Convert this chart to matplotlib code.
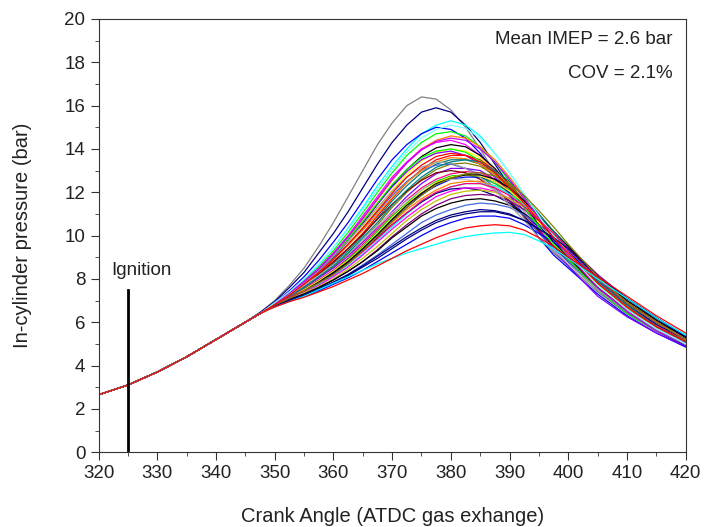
import matplotlib
matplotlib.use("Agg")
import matplotlib.pyplot as plt
from matplotlib.ticker import MultipleLocator

plt.rcParams['font.family'] = ['Liberation Sans', 'DejaVu Sans']

# compression part, all cycles lie on top of each other here
trunk_angle = [320, 325, 330, 335, 340]
trunk_pressure = [2.65, 3.1, 3.7, 4.4, 5.2]

# combustion part, one pressure row (bar) per cycle
cycle_angle = [345, 347.5, 350, 352.5, 355, 357.5, 360, 362.5, 365, 367.5, 370, 372.5, 375,
               377.5, 380, 382.5, 385, 387.5, 390, 392.5, 395, 397.5, 400, 405, 410, 415, 420]

cycle_pressure = [
    [6.0, 6.45, 7.0, 7.7, 8.5, 9.5, 10.6, 11.8, 13.0, 14.2, 15.2, 16.0, 16.4, 16.3, 15.8, 15.0, 14.0, 12.9, 11.8, 10.8, 9.9, 9.2, 8.6, 7.4, 6.4, 5.6, 4.9],
    [6.0, 6.45, 6.95, 7.6, 8.3, 9.2, 10.1, 11.1, 12.2, 13.3, 14.3, 15.1, 15.7, 15.9, 15.7, 15.1, 14.3, 13.3, 12.3, 11.3, 10.3, 9.5, 8.8, 7.5, 6.4, 5.6, 4.9],
    [6.0, 6.4, 6.85, 7.35, 7.95, 8.65, 9.45, 10.35, 11.3, 12.3, 13.2, 14.0, 14.7, 15.1, 15.3, 15.1, 14.6, 13.8, 12.9, 11.9, 10.9, 10.0, 9.2, 7.7, 6.6, 5.7, 5.0],
    [6.0, 6.4, 6.9, 7.45, 8.1, 8.85, 9.7, 10.6, 11.6, 12.6, 13.5, 14.2, 14.7, 15.0, 14.9, 14.5, 13.8, 12.9, 11.9, 10.9, 9.9, 9.1, 8.5, 7.3, 6.3, 5.5, 4.85],
    [6.0, 6.4, 6.85, 7.35, 7.9, 8.55, 9.3, 10.15, 11.05, 12.0, 12.9, 13.7, 14.3, 14.7, 14.8, 14.6, 14.1, 13.4, 12.5, 11.5, 10.5, 9.7, 9.0, 7.6, 6.5, 5.6, 5.0],
    [6.0, 6.4, 6.85, 7.3, 7.8, 8.4, 9.1, 9.9, 10.75, 11.65, 12.55, 13.35, 14.0, 14.4, 14.6, 14.5, 14.1, 13.5, 12.7, 11.8, 10.8, 9.9, 9.1, 7.6, 6.5, 5.6, 5.0],
    [6.0, 6.4, 6.85, 7.35, 7.9, 8.5, 9.2, 10.0, 10.9, 11.8, 12.7, 13.4, 14.0, 14.3, 14.4, 14.2, 13.7, 13.0, 12.2, 11.3, 10.3, 9.5, 8.9, 7.5, 6.4, 5.6, 5.0],
    [6.0, 6.4, 6.8, 7.3, 7.8, 8.35, 9.0, 9.75, 10.55, 11.45, 12.3, 13.05, 13.65, 14.05, 14.2, 14.1, 13.7, 13.1, 12.3, 11.4, 10.5, 9.7, 9.0, 7.6, 6.5, 5.7, 5.0],
    [6.0, 6.4, 6.8, 7.25, 7.75, 8.3, 8.9, 9.6, 10.4, 11.25, 12.1, 12.85, 13.45, 13.85, 14.0, 13.9, 13.6, 13.0, 12.3, 11.5, 10.6, 9.8, 9.1, 7.7, 6.6, 5.7, 5.0],
    [6.0, 6.4, 6.85, 7.3, 7.8, 8.4, 9.05, 9.8, 10.6, 11.45, 12.25, 12.95, 13.5, 13.8, 13.9, 13.7, 13.3, 12.7, 12.0, 11.1, 10.2, 9.3, 8.6, 7.2, 6.25, 5.5, 4.9],
    [6.0, 6.4, 6.8, 7.25, 7.7, 8.2, 8.75, 9.4, 10.1, 10.9, 11.7, 12.45, 13.05, 13.5, 13.7, 13.7, 13.5, 13.0, 12.4, 11.6, 10.8, 10.0, 9.2, 7.8, 6.7, 5.8, 5.1],
    [6.0, 6.4, 6.8, 7.2, 7.65, 8.15, 8.7, 9.3, 10.0, 10.8, 11.6, 12.3, 12.9, 13.3, 13.5, 13.5, 13.3, 12.9, 12.3, 11.6, 10.8, 10.0, 9.2, 7.8, 6.7, 5.8, 5.1],
    [6.0, 6.4, 6.8, 7.2, 7.6, 8.05, 8.55, 9.15, 9.8, 10.5, 11.3, 12.0, 12.6, 13.05, 13.3, 13.35, 13.2, 12.8, 12.3, 11.6, 10.9, 10.1, 9.3, 7.9, 6.8, 5.9, 5.1],
    [6.0, 6.4, 6.85, 7.3, 7.8, 8.35, 8.95, 9.6, 10.3, 11.1, 11.85, 12.5, 13.0, 13.25, 13.3, 13.1, 12.8, 12.2, 11.6, 10.9, 10.1, 9.4, 8.8, 7.5, 6.5, 5.7, 5.0],
    [6.0, 6.4, 6.8, 7.2, 7.6, 8.05, 8.5, 9.05, 9.7, 10.4, 11.1, 11.8, 12.4, 12.85, 13.1, 13.1, 13.0, 12.6, 12.1, 11.5, 10.8, 10.1, 9.3, 7.9, 6.8, 5.9, 5.1],
    [6.0, 6.4, 6.8, 7.2, 7.55, 7.95, 8.4, 8.95, 9.6, 10.3, 11.0, 11.65, 12.2, 12.6, 12.85, 12.95, 12.9, 12.6, 12.1, 11.5, 10.8, 10.1, 9.4, 7.9, 6.8, 5.9, 5.1],
    [6.0, 6.4, 6.85, 7.3, 7.75, 8.25, 8.8, 9.4, 10.05, 10.75, 11.45, 12.05, 12.55, 12.9, 13.0, 12.9, 12.6, 12.1, 11.6, 10.9, 10.2, 9.5, 8.9, 7.6, 6.6, 5.8, 5.1],
    [6.0, 6.4, 6.8, 7.15, 7.5, 7.9, 8.35, 8.9, 9.5, 10.2, 10.9, 11.5, 12.1, 12.5, 12.75, 12.8, 12.7, 12.4, 12.0, 11.4, 10.8, 10.1, 9.4, 8.0, 6.9, 6.0, 5.2],
    [6.0, 6.4, 6.8, 7.1, 7.45, 7.85, 8.25, 8.75, 9.35, 10.0, 10.7, 11.3, 11.9, 12.3, 12.6, 12.7, 12.7, 12.5, 12.0, 11.5, 10.8, 10.1, 9.4, 8.0, 6.9, 6.0, 5.2],
    [6.0, 6.4, 6.8, 7.25, 7.7, 8.15, 8.65, 9.2, 9.8, 10.45, 11.05, 11.6, 12.1, 12.45, 12.6, 12.6, 12.45, 12.1, 11.7, 11.1, 10.5, 9.8, 9.2, 7.9, 6.8, 5.9, 5.2],
    [6.0, 6.4, 6.8, 7.15, 7.45, 7.8, 8.2, 8.7, 9.3, 9.95, 10.6, 11.2, 11.7, 12.1, 12.4, 12.5, 12.5, 12.3, 11.9, 11.4, 10.8, 10.1, 9.4, 8.0, 6.9, 6.0, 5.2],
    [6.0, 6.4, 6.75, 7.1, 7.4, 7.75, 8.15, 8.6, 9.15, 9.75, 10.4, 11.0, 11.55, 11.95, 12.25, 12.4, 12.4, 12.3, 11.9, 11.4, 10.8, 10.2, 9.5, 8.1, 7.0, 6.0, 5.3],
    [6.0, 6.4, 6.8, 7.15, 7.5, 7.85, 8.25, 8.75, 9.3, 9.9, 10.5, 11.05, 11.55, 11.95, 12.15, 12.2, 12.1, 11.85, 11.5, 11.0, 10.4, 9.8, 9.2, 7.9, 6.8, 5.9, 5.2],
    [6.0, 6.4, 6.75, 7.1, 7.4, 7.7, 8.1, 8.55, 9.1, 9.7, 10.3, 10.85, 11.35, 11.8, 12.05, 12.2, 12.2, 12.05, 11.7, 11.3, 10.7, 10.1, 9.5, 8.1, 7.0, 6.0, 5.3],
    [6.0, 6.4, 6.75, 7.05, 7.35, 7.65, 8.0, 8.45, 8.95, 9.5, 10.1, 10.7, 11.2, 11.6, 11.9, 12.05, 12.1, 12.0, 11.7, 11.3, 10.7, 10.1, 9.5, 8.1, 7.0, 6.0, 5.3],
    [6.0, 6.4, 6.75, 7.05, 7.3, 7.6, 7.95, 8.35, 8.8, 9.35, 9.95, 10.5, 11.0, 11.4, 11.7, 11.85, 11.9, 11.85, 11.6, 11.2, 10.7, 10.1, 9.5, 8.2, 7.1, 6.1, 5.3],
    [6.0, 6.4, 6.75, 7.05, 7.3, 7.6, 7.95, 8.35, 8.8, 9.3, 9.9, 10.4, 10.9, 11.25, 11.5, 11.65, 11.7, 11.6, 11.4, 11.0, 10.5, 10.0, 9.4, 8.1, 7.0, 6.1, 5.3],
    [6.0, 6.4, 6.75, 7.0, 7.25, 7.5, 7.85, 8.2, 8.65, 9.1, 9.6, 10.1, 10.6, 10.95, 11.2, 11.4, 11.5, 11.45, 11.3, 10.95, 10.5, 10.0, 9.4, 8.1, 7.1, 6.2, 5.4],
    [6.0, 6.4, 6.75, 7.0, 7.25, 7.5, 7.8, 8.15, 8.55, 8.95, 9.4, 9.85, 10.25, 10.6, 10.85, 11.0, 11.1, 11.1, 10.95, 10.7, 10.3, 9.9, 9.4, 8.1, 7.1, 6.2, 5.35],
    [6.0, 6.4, 6.75, 7.0, 7.2, 7.45, 7.75, 8.05, 8.4, 8.8, 9.2, 9.6, 10.0, 10.35, 10.6, 10.8, 10.9, 10.9, 10.8, 10.5, 10.1, 9.7, 9.2, 8.1, 7.1, 6.2, 5.35],
    [6.0, 6.4, 6.85, 7.3, 7.85, 8.45, 9.1, 9.85, 10.65, 11.5, 12.35, 13.05, 13.6, 13.9, 14.0, 13.85, 13.45, 12.85, 12.1, 11.3, 10.4, 9.6, 8.9, 7.5, 6.4, 5.6, 5.0],
    [6.0, 6.4, 6.8, 7.25, 7.75, 8.3, 8.9, 9.55, 10.25, 11.0, 11.75, 12.45, 13.0, 13.4, 13.6, 13.55, 13.3, 12.8, 12.2, 11.5, 10.7, 9.9, 9.2, 7.8, 6.7, 5.8, 5.1],
    [6.0, 6.4, 6.85, 7.3, 7.8, 8.4, 9.05, 9.75, 10.5, 11.3, 12.05, 12.7, 13.15, 13.4, 13.35, 13.1, 12.7, 12.1, 11.4, 10.7, 9.9, 9.3, 8.7, 7.5, 6.5, 5.7, 5.0],
    [6.0, 6.4, 6.8, 7.15, 7.5, 7.9, 8.35, 8.85, 9.45, 10.1, 10.8, 11.45, 12.0, 12.45, 12.7, 12.8, 12.75, 12.5, 12.05, 11.5, 10.8, 10.1, 9.4, 8.0, 6.9, 6.0, 5.2],
    [6.0, 6.4, 6.8, 7.15, 7.45, 7.85, 8.3, 8.8, 9.4, 10.05, 10.75, 11.4, 11.95, 12.4, 12.65, 12.8, 12.8, 12.6, 12.2, 11.6, 10.9, 10.2, 9.5, 8.0, 6.9, 6.0, 5.2],
    [6.0, 6.4, 6.8, 7.2, 7.6, 8.1, 8.6, 9.2, 9.9, 10.6, 11.4, 12.1, 12.7, 13.15, 13.4, 13.5, 13.4, 13.0, 12.5, 11.8, 11.0, 10.2, 9.4, 7.9, 6.8, 5.8, 5.1],
    [6.0, 6.4, 6.85, 7.35, 7.85, 8.45, 9.15, 9.95, 10.8, 11.7, 12.6, 13.35, 13.95, 14.35, 14.5, 14.4, 14.0, 13.4, 12.6, 11.7, 10.8, 9.9, 9.1, 7.6, 6.5, 5.6, 5.0],
    [6.0, 6.4, 6.9, 7.4, 8.0, 8.7, 9.45, 10.3, 11.2, 12.15, 13.05, 13.85, 14.5, 14.9, 15.1, 14.95, 14.5, 13.8, 12.9, 11.9, 10.9, 10.0, 9.2, 7.7, 6.6, 5.7, 5.0],
    [6.0, 6.4, 6.8, 7.15, 7.45, 7.8, 8.2, 8.7, 9.25, 9.85, 10.5, 11.05, 11.6, 12.0, 12.25, 12.4, 12.4, 12.2, 11.85, 11.35, 10.7, 10.1, 9.4, 8.0, 6.9, 6.0, 5.2],
    [6.0, 6.4, 6.75, 7.0, 7.25, 7.55, 7.85, 8.2, 8.6, 9.05, 9.5, 9.95, 10.35, 10.7, 10.95, 11.1, 11.2, 11.15, 11.0, 10.7, 10.3, 9.9, 9.4, 8.1, 7.1, 6.2, 5.35],
    [6.0, 6.4, 6.8, 7.1, 7.45, 7.8, 8.2, 8.7, 9.3, 9.95, 10.65, 11.3, 11.85, 12.35, 12.65, 12.85, 12.9, 12.75, 12.4, 11.85, 11.15, 10.4, 9.6, 8.1, 6.9, 6.0, 5.2],
    [6.0, 6.4, 6.8, 7.25, 7.75, 8.3, 8.9, 9.6, 10.35, 11.15, 11.95, 12.7, 13.25, 13.65, 13.8, 13.7, 13.4, 12.9, 12.2, 11.5, 10.7, 9.9, 9.2, 7.8, 6.7, 5.8, 5.1],
    [6.0, 6.4, 6.7, 6.95, 7.2, 7.5, 7.8, 8.1, 8.4, 8.7, 8.95, 9.2, 9.4, 9.6, 9.8, 9.95, 10.05, 10.12, 10.15, 10.05, 9.75, 9.4, 8.95, 8.0, 7.1, 6.2, 5.4],
    [6.0, 6.4, 6.7, 6.95, 7.15, 7.4, 7.65, 7.95, 8.25, 8.6, 8.95, 9.3, 9.6, 9.9, 10.15, 10.35, 10.45, 10.5, 10.45, 10.25, 9.9, 9.5, 9.0, 8.1, 7.2, 6.3, 5.5],
]

cycle_color = [
    '#808080', '#000080', '#00FFFF', '#0000FF', '#00FF00', '#FF8000', '#FF00FF', '#000000',
    '#FFFF00', '#8000FF', '#FF0000', '#008080', '#808000', '#4169E1', '#8000FF', '#FF0080',
    '#800000', '#00C000', '#0000FF', '#C0C0C0', '#FF8000', '#00FFFF', '#000080', '#FF00FF',
    '#C0C000', '#800080', '#000000', '#4169E1', '#000080', '#0000FF', '#00FF00', '#FF8000',
    '#A0A0A0', '#FFFF00', '#000000', '#008080', '#C000FF', '#80FFFF', '#FF0080', '#000080',
    '#808000', '#FF0000', '#00FFFF', '#FF0000',
]

fig, ax = plt.subplots(figsize=(7.04, 5.27), dpi=100)
fig.subplots_adjust(left=0.140, right=0.974, top=0.964, bottom=0.142)

for pressure, color in zip(cycle_pressure, cycle_color):
    ax.plot(trunk_angle + cycle_angle, trunk_pressure + pressure, color=color, lw=0.9)

# ignition marker
ax.plot([325, 325], [0, 7.5], color='black', lw=2)
ax.text(322.1, 8.4, 'Ignition', fontsize=13.5, ha='left', va='center', color='#222222')

ax.text(0.977, 0.9515, 'Mean IMEP = 2.6 bar', transform=ax.transAxes, fontsize=13.5,
        ha='right', va='center', color='#222222')
ax.text(0.977, 0.875, 'COV = 2.1%', transform=ax.transAxes, fontsize=13.5,
        ha='right', va='center', color='#222222')

ax.set_xlim(320, 420)
ax.set_ylim(0, 20)
ax.xaxis.set_major_locator(MultipleLocator(10))
ax.xaxis.set_minor_locator(MultipleLocator(5))
ax.yaxis.set_major_locator(MultipleLocator(2))
ax.yaxis.set_minor_locator(MultipleLocator(1))
ax.tick_params(which='major', direction='out', length=6, labelsize=13.5, color='#333333', labelcolor='#222222')
ax.tick_params(which='minor', direction='out', length=3, color='#333333')
for s in ax.spines.values():
    s.set_color('#333333')

ax.set_xlabel('Crank Angle (ATDC gas exhange)', fontsize=14.5, color='#222222', labelpad=18)
ax.set_ylabel('In-cylinder pressure (bar)', fontsize=14.5, color='#222222', labelpad=23)

fig.savefig('out.png', dpi=100)
